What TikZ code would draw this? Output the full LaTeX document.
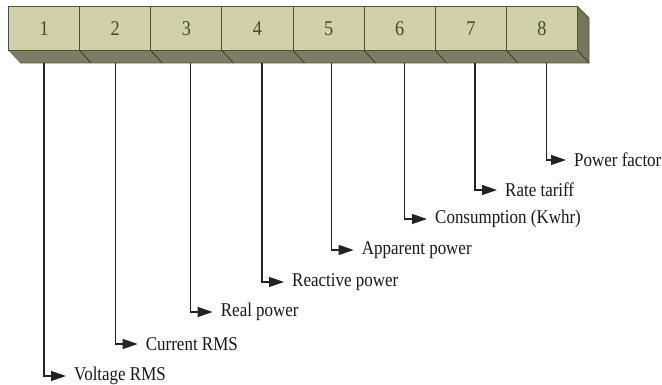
\documentclass[tikz,border=0pt]{standalone}
\usepackage{fontspec}
\setmainfont{Liberation Serif}[FakeStretch=0.87]
\usetikzlibrary{arrows.meta}
\definecolor{facec}{RGB}{210,208,170}
\definecolor{darkc}{RGB}{126,124,100}
\definecolor{sidec}{RGB}{118,116,92}
\definecolor{edgec}{RGB}{62,92,46}
\definecolor{linec}{RGB}{35,35,35}
\definecolor{digitc}{RGB}{60,80,45}
\begin{document}
\begin{tikzpicture}[x=1pt,y=1pt,
  cell/.style={draw=edgec, line width=1.1pt, fill=facec, minimum width=71.125pt,
    minimum height=44pt, inner sep=0pt, anchor=north west,
    font=\fontsize{21}{23}\selectfont, text=digitc},
  lbl/.style={anchor=west, inner xsep=8pt, inner ysep=0pt,
    font=\fontsize{19.5}{21}\selectfont, text=black!90},
  conn/.style={draw=linec, line width=1.3pt, -{Triangle[length=15pt,width=10pt]}}]
\useasboundingbox (0,0) rectangle (662,-385);
% bottom and side faces of the bar
\fill[darkc] (8,-50) -- (577,-50) -- (589,-63) -- (20,-63) -- cycle;
\fill[sidec] (577,-6) -- (589,-18) -- (589,-63) -- (577,-50) -- cycle;
\draw[edgec, line width=0.9pt] (577,-6) -- (589,-18) -- (589,-63) -- (20,-63);
\foreach \i in {1,...,8} {
  \draw[edgec!70!black, line width=0.8pt] ({8+71.125*\i},-50) -- ++(12,-13);
}
% front cells
\node[cell] (b1) at (8,-6) {1};
\node[cell] (b2) at (79.125,-6) {2};
\node[cell] (b3) at (150.25,-6) {3};
\node[cell] (b4) at (221.375,-6) {4};
\node[cell] (b5) at (292.5,-6) {5};
\node[cell] (b6) at (363.625,-6) {6};
\node[cell] (b7) at (434.75,-6) {7};
\node[cell] (b8) at (505.875,-6) {8};
% connector start points under the bar
\coordinate (t1) at (44,-63);
\coordinate (t2) at (115.7,-63);
\coordinate (t3) at (190.7,-63);
\coordinate (t4) at (262,-63);
\coordinate (t5) at (331.7,-63);
\coordinate (t6) at (404.3,-63);
\coordinate (t7) at (475,-63);
\coordinate (t8) at (546.7,-63);
% labels
\node[lbl] (l1) at (66,-376) {Voltage RMS};
\node[lbl] (l2) at (137.7,-344) {Current RMS};
\node[lbl] (l3) at (212.7,-312) {Real power};
\node[lbl] (l4) at (284,-282) {Reactive power};
\node[lbl] (l5) at (353.7,-250) {Apparent power};
\node[lbl] (l6) at (427,-219) {Consumption (Kwhr)};
\node[lbl] (l7) at (497,-190) {Rate tariff};
\node[lbl] (l8) at (566,-160) {Power factor};
% connectors
\foreach \i in {1,...,8} {
  \draw[conn] (t\i) |- (l\i.west);
}
\end{tikzpicture}
\end{document}
